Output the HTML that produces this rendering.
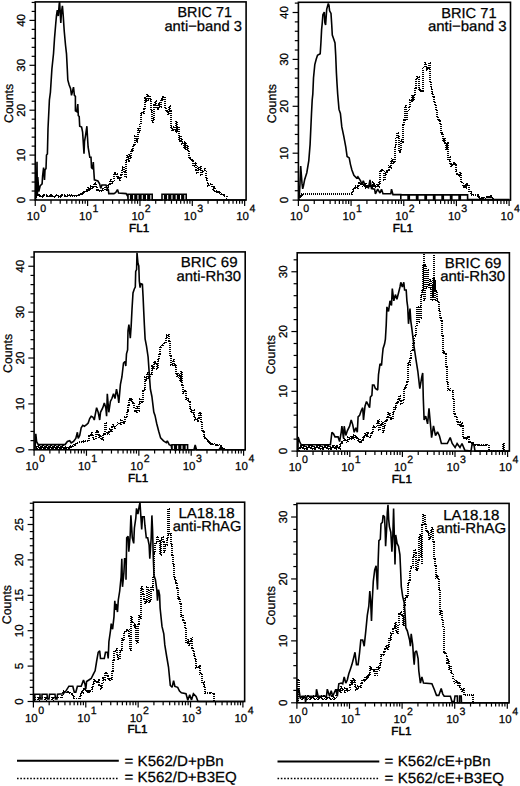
<!DOCTYPE html>
<html><head><meta charset="utf-8"><style>
html,body{margin:0;padding:0;background:#fff;}
svg{display:block;}
text{font-family:"Liberation Sans", sans-serif;fill:#000;stroke:#000;stroke-width:0.25px;text-rendering:geometricPrecision;}
</style></head><body>
<svg width="520" height="786" viewBox="0 0 520 786">
<rect x="35.25" y="1.9" width="210.85" height="198.10" fill="none" stroke="#000" stroke-width="1.6"/>
<line x1="29.45" y1="200.00" x2="35.25" y2="200.00" stroke="#000" stroke-width="1.2"/>
<line x1="31.65" y1="191.02" x2="35.25" y2="191.02" stroke="#000" stroke-width="1.2"/>
<line x1="31.65" y1="182.04" x2="35.25" y2="182.04" stroke="#000" stroke-width="1.2"/>
<line x1="31.65" y1="173.06" x2="35.25" y2="173.06" stroke="#000" stroke-width="1.2"/>
<line x1="31.65" y1="164.08" x2="35.25" y2="164.08" stroke="#000" stroke-width="1.2"/>
<line x1="29.45" y1="155.10" x2="35.25" y2="155.10" stroke="#000" stroke-width="1.2"/>
<line x1="31.65" y1="146.12" x2="35.25" y2="146.12" stroke="#000" stroke-width="1.2"/>
<line x1="31.65" y1="137.14" x2="35.25" y2="137.14" stroke="#000" stroke-width="1.2"/>
<line x1="31.65" y1="128.16" x2="35.25" y2="128.16" stroke="#000" stroke-width="1.2"/>
<line x1="31.65" y1="119.18" x2="35.25" y2="119.18" stroke="#000" stroke-width="1.2"/>
<line x1="29.45" y1="110.20" x2="35.25" y2="110.20" stroke="#000" stroke-width="1.2"/>
<line x1="31.65" y1="101.22" x2="35.25" y2="101.22" stroke="#000" stroke-width="1.2"/>
<line x1="31.65" y1="92.24" x2="35.25" y2="92.24" stroke="#000" stroke-width="1.2"/>
<line x1="31.65" y1="83.26" x2="35.25" y2="83.26" stroke="#000" stroke-width="1.2"/>
<line x1="31.65" y1="74.28" x2="35.25" y2="74.28" stroke="#000" stroke-width="1.2"/>
<line x1="29.45" y1="65.30" x2="35.25" y2="65.30" stroke="#000" stroke-width="1.2"/>
<line x1="31.65" y1="56.32" x2="35.25" y2="56.32" stroke="#000" stroke-width="1.2"/>
<line x1="31.65" y1="47.34" x2="35.25" y2="47.34" stroke="#000" stroke-width="1.2"/>
<line x1="31.65" y1="38.36" x2="35.25" y2="38.36" stroke="#000" stroke-width="1.2"/>
<line x1="31.65" y1="29.38" x2="35.25" y2="29.38" stroke="#000" stroke-width="1.2"/>
<line x1="29.45" y1="20.40" x2="35.25" y2="20.40" stroke="#000" stroke-width="1.2"/>
<line x1="31.65" y1="11.42" x2="35.25" y2="11.42" stroke="#000" stroke-width="1.2"/>
<line x1="31.65" y1="2.44" x2="35.25" y2="2.44" stroke="#000" stroke-width="1.2"/>
<text x="25.05" y="200.00" transform="rotate(-90 25.05 200.00)" text-anchor="middle" font-size="11.6">0</text>
<text x="25.05" y="155.10" transform="rotate(-90 25.05 155.10)" text-anchor="middle" font-size="11.6">10</text>
<text x="25.05" y="110.20" transform="rotate(-90 25.05 110.20)" text-anchor="middle" font-size="11.6">20</text>
<text x="25.05" y="65.30" transform="rotate(-90 25.05 65.30)" text-anchor="middle" font-size="11.6">30</text>
<text x="25.05" y="20.40" transform="rotate(-90 25.05 20.40)" text-anchor="middle" font-size="11.6">40</text>
<text x="12.60" y="103.4" transform="rotate(-90 12.60 103.4)" text-anchor="middle" font-size="12.4">Counts</text>
<line x1="35.25" y1="200.0" x2="35.25" y2="206.00" stroke="#000" stroke-width="1.2"/>
<line x1="51.01" y1="200.0" x2="51.01" y2="203.80" stroke="#000" stroke-width="1.2"/>
<line x1="60.23" y1="200.0" x2="60.23" y2="203.80" stroke="#000" stroke-width="1.2"/>
<line x1="66.77" y1="200.0" x2="66.77" y2="203.80" stroke="#000" stroke-width="1.2"/>
<line x1="71.84" y1="200.0" x2="71.84" y2="203.80" stroke="#000" stroke-width="1.2"/>
<line x1="75.99" y1="200.0" x2="75.99" y2="203.80" stroke="#000" stroke-width="1.2"/>
<line x1="79.49" y1="200.0" x2="79.49" y2="203.80" stroke="#000" stroke-width="1.2"/>
<line x1="82.53" y1="200.0" x2="82.53" y2="203.80" stroke="#000" stroke-width="1.2"/>
<line x1="85.20" y1="200.0" x2="85.20" y2="203.80" stroke="#000" stroke-width="1.2"/>
<line x1="87.60" y1="200.0" x2="87.60" y2="206.00" stroke="#000" stroke-width="1.2"/>
<line x1="103.36" y1="200.0" x2="103.36" y2="203.80" stroke="#000" stroke-width="1.2"/>
<line x1="112.58" y1="200.0" x2="112.58" y2="203.80" stroke="#000" stroke-width="1.2"/>
<line x1="119.12" y1="200.0" x2="119.12" y2="203.80" stroke="#000" stroke-width="1.2"/>
<line x1="124.19" y1="200.0" x2="124.19" y2="203.80" stroke="#000" stroke-width="1.2"/>
<line x1="128.34" y1="200.0" x2="128.34" y2="203.80" stroke="#000" stroke-width="1.2"/>
<line x1="131.84" y1="200.0" x2="131.84" y2="203.80" stroke="#000" stroke-width="1.2"/>
<line x1="134.88" y1="200.0" x2="134.88" y2="203.80" stroke="#000" stroke-width="1.2"/>
<line x1="137.55" y1="200.0" x2="137.55" y2="203.80" stroke="#000" stroke-width="1.2"/>
<line x1="139.95" y1="200.0" x2="139.95" y2="206.00" stroke="#000" stroke-width="1.2"/>
<line x1="155.71" y1="200.0" x2="155.71" y2="203.80" stroke="#000" stroke-width="1.2"/>
<line x1="164.93" y1="200.0" x2="164.93" y2="203.80" stroke="#000" stroke-width="1.2"/>
<line x1="171.47" y1="200.0" x2="171.47" y2="203.80" stroke="#000" stroke-width="1.2"/>
<line x1="176.54" y1="200.0" x2="176.54" y2="203.80" stroke="#000" stroke-width="1.2"/>
<line x1="180.69" y1="200.0" x2="180.69" y2="203.80" stroke="#000" stroke-width="1.2"/>
<line x1="184.19" y1="200.0" x2="184.19" y2="203.80" stroke="#000" stroke-width="1.2"/>
<line x1="187.23" y1="200.0" x2="187.23" y2="203.80" stroke="#000" stroke-width="1.2"/>
<line x1="189.90" y1="200.0" x2="189.90" y2="203.80" stroke="#000" stroke-width="1.2"/>
<line x1="192.30" y1="200.0" x2="192.30" y2="206.00" stroke="#000" stroke-width="1.2"/>
<line x1="208.06" y1="200.0" x2="208.06" y2="203.80" stroke="#000" stroke-width="1.2"/>
<line x1="217.28" y1="200.0" x2="217.28" y2="203.80" stroke="#000" stroke-width="1.2"/>
<line x1="223.82" y1="200.0" x2="223.82" y2="203.80" stroke="#000" stroke-width="1.2"/>
<line x1="228.89" y1="200.0" x2="228.89" y2="203.80" stroke="#000" stroke-width="1.2"/>
<line x1="233.04" y1="200.0" x2="233.04" y2="203.80" stroke="#000" stroke-width="1.2"/>
<line x1="236.54" y1="200.0" x2="236.54" y2="203.80" stroke="#000" stroke-width="1.2"/>
<line x1="239.58" y1="200.0" x2="239.58" y2="203.80" stroke="#000" stroke-width="1.2"/>
<line x1="242.25" y1="200.0" x2="242.25" y2="203.80" stroke="#000" stroke-width="1.2"/>
<line x1="244.65" y1="200.0" x2="244.65" y2="206.00" stroke="#000" stroke-width="1.2"/>
<text x="26.75" y="220.10" font-size="11.5">10<tspan dx="0.6" dy="-7.9" font-size="10.6">0</tspan></text>
<text x="79.10" y="220.10" font-size="11.5">10<tspan dx="0.6" dy="-7.9" font-size="10.6">1</tspan></text>
<text x="131.45" y="220.10" font-size="11.5">10<tspan dx="0.6" dy="-7.9" font-size="10.6">2</tspan></text>
<text x="183.80" y="220.10" font-size="11.5">10<tspan dx="0.6" dy="-7.9" font-size="10.6">3</tspan></text>
<text x="236.15" y="220.10" font-size="11.5">10<tspan dx="0.6" dy="-7.9" font-size="10.6">4</tspan></text>
<text x="139.18" y="231.80" text-anchor="middle" font-size="11.6" letter-spacing="0.1" style="stroke-width:0.5px">FL1</text>
<text x="177.50" y="17.2" font-size="14.5" textLength="54.40" lengthAdjust="spacingAndGlyphs">BRIC 71</text>
<text x="164.40" y="30.5" font-size="14.5" textLength="77.50" lengthAdjust="spacingAndGlyphs">anti−band 3</text>
<polyline points="35.5,200.0 35.9,180.0 36.4,196.0 37.0,161.7 37.4,196.0 37.8,177.0 38.8,191.5 40.2,185.8 42.1,183.8 42.6,176.0 43.6,167.5 44.5,180.0 45.0,170.0 46.0,168.5 46.5,155.0 47.4,154.0 48.0,128.8 49.4,100.0 50.4,92.3 51.9,69.0 53.5,53.8 54.5,38.5 55.8,23.0 56.5,15.4 57.3,10.0 58.3,16.0 59.2,4.0 59.6,2.0 60.2,12.0 60.8,23.0 61.5,12.0 62.4,5.8 63.2,15.4 64.2,30.8 65.5,45.0 66.5,53.8 67.3,69.2 67.8,80.0 69.1,84.8 70.6,88.7 71.5,95.4 73.5,87.2 74.4,95.4 75.4,96.3 75.4,110.8 76.8,111.7 77.8,104.0 78.3,115.6 79.2,116.5 79.7,126.2 81.6,127.1 82.6,132.0 83.1,139.6 84.0,153.8 84.5,141.5 85.5,135.8 86.9,126.2 87.4,135.8 88.1,147.0 89.8,157.3 91.0,157.3 91.5,167.7 92.7,168.8 93.3,162.0 93.8,171.0 94.4,179.8 97.9,181.0 99.6,183.8 100.8,188.4 101.9,185.0 106.0,185.0 107.1,188.4 108.3,189.6 108.8,193.6 114.0,193.6 115.8,192.5 117.5,189.6 118.6,193.0 126.1,193.6 127.9,196.5 128.0,200.0 128.0,194.3 130.7,194.3 130.7,200.0 132.3,200.0 132.3,200.0 132.3,194.3 135.0,194.3 135.0,200.0 136.6,200.0 136.6,200.0 136.6,194.3 139.3,194.3 139.3,200.0 140.9,200.0 140.9,200.0 140.9,194.3 143.6,194.3 143.6,200.0 145.2,200.0 145.2,200.0 145.2,194.3 147.9,194.3 147.9,200.0 149.5,200.0 149.5,200.0 149.5,194.3 152.2,194.3 152.2,200.0 153.8,200.0 155.0,200.0 162.0,200.0 162.0,200.0 162.0,194.3 164.7,194.3 164.7,200.0 166.3,200.0 166.3,200.0 166.3,194.3 169.0,194.3 169.0,200.0 170.6,200.0 170.6,200.0 170.6,194.3 173.3,194.3 173.3,200.0 174.9,200.0 174.9,200.0 174.9,194.3 177.6,194.3 177.6,200.0 179.2,200.0 179.2,200.0 179.2,194.3 181.9,194.3 181.9,200.0 183.5,200.0 183.5,200.0 183.5,194.3 186.2,194.3 186.2,200.0 187.8,200.0 188.0,200.0 246.0,200.0" fill="none" stroke="#000" stroke-width="1.6" stroke-linejoin="miter" stroke-miterlimit="2"/>
<path d="M36.00,200.00V196.00H37.00V195.25H38.00V194.75H39.00V194.50H40.00V195.75H41.00V196.58H42.00V197.00H43.00V195.75H44.00V194.92H45.00V194.50H46.00V195.75H47.00V196.58H48.00V197.00H49.00V195.75H50.00V194.92H51.00V194.50H52.00V195.75H53.00V196.58H54.00V197.00H55.00V196.00H56.00V195.33H57.00V195.00H58.00V196.00H59.00V196.67H60.00V197.00H61.00V195.75H62.00V194.92H63.00V194.50H64.00V195.75H65.00V196.58H66.00V197.00H67.00V196.00H68.00V195.33H69.00V195.00H70.00V195.38H71.00V195.62H72.00V195.88H73.00V196.00H74.00V195.85H75.00V195.75H76.00V195.65H77.00V195.55H78.00V195.50H79.00V194.61H80.00V194.02H81.00V193.60H82.00V192.94H83.00V192.43H84.00V191.92H85.00V191.41H86.00V190.70H87.00V190.09H88.00V187.50H89.00V190.48H90.00V188.12H91.00V186.00H92.00V188.38H93.00V187.52H94.00V183.37H95.00V184.40H96.00V187.02H97.00V189.60H98.00V190.30H99.00V190.89H100.00V191.30H101.00V190.51H102.00V188.89H103.00V189.60H104.00V190.13H105.00V187.04H106.00V190.52H107.00V189.60H108.00V185.93H109.00V183.80H110.00V180.30H111.00V180.40H112.00V182.66H113.00V180.40H114.00V172.90H115.00V174.09H116.00V174.30H117.00V177.11H118.00V178.00H119.00V179.80H120.00V178.35H121.00V174.60H122.00V168.80H123.00V166.59H124.00V172.30H125.00V176.90H126.00V160.80H127.00V156.10H128.00V160.60H129.00V155.00H130.00V158.50H131.00V150.29H132.00V151.50H133.00V146.50H134.00V144.93H135.00V136.00H136.00V141.79H137.00V140.00H138.00V128.88H139.00V132.00H140.00V124.77H141.00V114.20H142.00V111.93H143.00V113.00H144.00V109.01H145.00V98.07H146.00V101.50H147.00V95.07H148.00V99.80H149.00V95.97H150.00V99.80H151.00V110.80H152.00V121.91H153.00V118.80H154.00V105.00H155.00V101.36H156.00V108.07H157.00V105.00H158.00V109.07H159.00V102.70H160.00V107.13H161.00V99.17H162.00V100.40H163.00V97.14H164.00V97.50H165.00V108.50H166.00V110.80H167.00V111.10H168.00V114.11H169.00V106.10H170.00V110.80H171.00V127.00H172.00V129.98H173.00V130.57H174.00V127.00H175.00V131.32H176.00V121.44H177.00V132.35H178.00V127.00H179.00V140.70H180.00V136.40H181.00V140.07H182.00V143.99H183.00V143.00H184.00V148.78H185.00V142.37H186.00V149.83H187.00V145.40H188.00V151.51H189.00V158.00H190.00V158.10H191.00V160.19H192.00V160.90H193.00V166.00H194.00V162.83H195.00V164.25H196.00V169.89H197.00V173.34H198.00V166.65H199.00V170.00H200.00V166.43H201.00V174.82H202.00V171.13H203.00V170.26H204.00V169.06H205.00V171.60H206.00V178.95H207.00V182.40H208.00V185.99H209.00V184.62H210.00V185.43H211.00V184.33H212.00V187.80H213.00V190.88H214.00V186.96H215.00V190.15H216.00V190.91H217.00V191.90H218.00V192.28H219.00V192.83H220.00V193.38H221.00V193.93H222.00V194.48H223.00V195.03H224.00V195.58H225.00V196.13H226.00V196.40H227.00V198.48H228.00V200.00H229.00V200.00" fill="none" stroke="#000" stroke-width="1.8" stroke-dasharray="1 1" shape-rendering="crispEdges"/>
<rect x="298.4" y="2.3" width="212.10" height="197.80" fill="none" stroke="#000" stroke-width="1.6"/>
<line x1="292.60" y1="200.10" x2="298.4" y2="200.10" stroke="#000" stroke-width="1.2"/>
<line x1="294.80" y1="190.72" x2="298.4" y2="190.72" stroke="#000" stroke-width="1.2"/>
<line x1="294.80" y1="181.34" x2="298.4" y2="181.34" stroke="#000" stroke-width="1.2"/>
<line x1="294.80" y1="171.96" x2="298.4" y2="171.96" stroke="#000" stroke-width="1.2"/>
<line x1="294.80" y1="162.58" x2="298.4" y2="162.58" stroke="#000" stroke-width="1.2"/>
<line x1="292.60" y1="153.20" x2="298.4" y2="153.20" stroke="#000" stroke-width="1.2"/>
<line x1="294.80" y1="143.82" x2="298.4" y2="143.82" stroke="#000" stroke-width="1.2"/>
<line x1="294.80" y1="134.44" x2="298.4" y2="134.44" stroke="#000" stroke-width="1.2"/>
<line x1="294.80" y1="125.06" x2="298.4" y2="125.06" stroke="#000" stroke-width="1.2"/>
<line x1="294.80" y1="115.68" x2="298.4" y2="115.68" stroke="#000" stroke-width="1.2"/>
<line x1="292.60" y1="106.30" x2="298.4" y2="106.30" stroke="#000" stroke-width="1.2"/>
<line x1="294.80" y1="96.92" x2="298.4" y2="96.92" stroke="#000" stroke-width="1.2"/>
<line x1="294.80" y1="87.54" x2="298.4" y2="87.54" stroke="#000" stroke-width="1.2"/>
<line x1="294.80" y1="78.16" x2="298.4" y2="78.16" stroke="#000" stroke-width="1.2"/>
<line x1="294.80" y1="68.78" x2="298.4" y2="68.78" stroke="#000" stroke-width="1.2"/>
<line x1="292.60" y1="59.40" x2="298.4" y2="59.40" stroke="#000" stroke-width="1.2"/>
<line x1="294.80" y1="50.02" x2="298.4" y2="50.02" stroke="#000" stroke-width="1.2"/>
<line x1="294.80" y1="40.64" x2="298.4" y2="40.64" stroke="#000" stroke-width="1.2"/>
<line x1="294.80" y1="31.26" x2="298.4" y2="31.26" stroke="#000" stroke-width="1.2"/>
<line x1="294.80" y1="21.88" x2="298.4" y2="21.88" stroke="#000" stroke-width="1.2"/>
<line x1="292.60" y1="12.50" x2="298.4" y2="12.50" stroke="#000" stroke-width="1.2"/>
<line x1="294.80" y1="3.12" x2="298.4" y2="3.12" stroke="#000" stroke-width="1.2"/>
<text x="288.20" y="200.10" transform="rotate(-90 288.20 200.10)" text-anchor="middle" font-size="11.6">0</text>
<text x="288.20" y="153.20" transform="rotate(-90 288.20 153.20)" text-anchor="middle" font-size="11.6">10</text>
<text x="288.20" y="106.30" transform="rotate(-90 288.20 106.30)" text-anchor="middle" font-size="11.6">20</text>
<text x="288.20" y="59.40" transform="rotate(-90 288.20 59.40)" text-anchor="middle" font-size="11.6">30</text>
<text x="288.20" y="12.50" transform="rotate(-90 288.20 12.50)" text-anchor="middle" font-size="11.6">40</text>
<text x="275.70" y="103.6" transform="rotate(-90 275.70 103.6)" text-anchor="middle" font-size="12.4">Counts</text>
<line x1="298.40" y1="200.1" x2="298.40" y2="206.10" stroke="#000" stroke-width="1.2"/>
<line x1="314.26" y1="200.1" x2="314.26" y2="203.90" stroke="#000" stroke-width="1.2"/>
<line x1="323.53" y1="200.1" x2="323.53" y2="203.90" stroke="#000" stroke-width="1.2"/>
<line x1="330.11" y1="200.1" x2="330.11" y2="203.90" stroke="#000" stroke-width="1.2"/>
<line x1="335.22" y1="200.1" x2="335.22" y2="203.90" stroke="#000" stroke-width="1.2"/>
<line x1="339.39" y1="200.1" x2="339.39" y2="203.90" stroke="#000" stroke-width="1.2"/>
<line x1="342.92" y1="200.1" x2="342.92" y2="203.90" stroke="#000" stroke-width="1.2"/>
<line x1="345.97" y1="200.1" x2="345.97" y2="203.90" stroke="#000" stroke-width="1.2"/>
<line x1="348.66" y1="200.1" x2="348.66" y2="203.90" stroke="#000" stroke-width="1.2"/>
<line x1="351.07" y1="200.1" x2="351.07" y2="206.10" stroke="#000" stroke-width="1.2"/>
<line x1="366.93" y1="200.1" x2="366.93" y2="203.90" stroke="#000" stroke-width="1.2"/>
<line x1="376.21" y1="200.1" x2="376.21" y2="203.90" stroke="#000" stroke-width="1.2"/>
<line x1="382.79" y1="200.1" x2="382.79" y2="203.90" stroke="#000" stroke-width="1.2"/>
<line x1="387.89" y1="200.1" x2="387.89" y2="203.90" stroke="#000" stroke-width="1.2"/>
<line x1="392.06" y1="200.1" x2="392.06" y2="203.90" stroke="#000" stroke-width="1.2"/>
<line x1="395.59" y1="200.1" x2="395.59" y2="203.90" stroke="#000" stroke-width="1.2"/>
<line x1="398.65" y1="200.1" x2="398.65" y2="203.90" stroke="#000" stroke-width="1.2"/>
<line x1="401.34" y1="200.1" x2="401.34" y2="203.90" stroke="#000" stroke-width="1.2"/>
<line x1="403.75" y1="200.1" x2="403.75" y2="206.10" stroke="#000" stroke-width="1.2"/>
<line x1="419.61" y1="200.1" x2="419.61" y2="203.90" stroke="#000" stroke-width="1.2"/>
<line x1="428.88" y1="200.1" x2="428.88" y2="203.90" stroke="#000" stroke-width="1.2"/>
<line x1="435.46" y1="200.1" x2="435.46" y2="203.90" stroke="#000" stroke-width="1.2"/>
<line x1="440.57" y1="200.1" x2="440.57" y2="203.90" stroke="#000" stroke-width="1.2"/>
<line x1="444.74" y1="200.1" x2="444.74" y2="203.90" stroke="#000" stroke-width="1.2"/>
<line x1="448.27" y1="200.1" x2="448.27" y2="203.90" stroke="#000" stroke-width="1.2"/>
<line x1="451.32" y1="200.1" x2="451.32" y2="203.90" stroke="#000" stroke-width="1.2"/>
<line x1="454.01" y1="200.1" x2="454.01" y2="203.90" stroke="#000" stroke-width="1.2"/>
<line x1="456.43" y1="200.1" x2="456.43" y2="206.10" stroke="#000" stroke-width="1.2"/>
<line x1="472.28" y1="200.1" x2="472.28" y2="203.90" stroke="#000" stroke-width="1.2"/>
<line x1="481.56" y1="200.1" x2="481.56" y2="203.90" stroke="#000" stroke-width="1.2"/>
<line x1="488.14" y1="200.1" x2="488.14" y2="203.90" stroke="#000" stroke-width="1.2"/>
<line x1="493.24" y1="200.1" x2="493.24" y2="203.90" stroke="#000" stroke-width="1.2"/>
<line x1="497.41" y1="200.1" x2="497.41" y2="203.90" stroke="#000" stroke-width="1.2"/>
<line x1="500.94" y1="200.1" x2="500.94" y2="203.90" stroke="#000" stroke-width="1.2"/>
<line x1="504.00" y1="200.1" x2="504.00" y2="203.90" stroke="#000" stroke-width="1.2"/>
<line x1="506.69" y1="200.1" x2="506.69" y2="203.90" stroke="#000" stroke-width="1.2"/>
<line x1="509.10" y1="200.1" x2="509.10" y2="206.10" stroke="#000" stroke-width="1.2"/>
<text x="289.90" y="220.20" font-size="11.5">10<tspan dx="0.6" dy="-7.9" font-size="10.6">0</tspan></text>
<text x="342.57" y="220.20" font-size="11.5">10<tspan dx="0.6" dy="-7.9" font-size="10.6">1</tspan></text>
<text x="395.25" y="220.20" font-size="11.5">10<tspan dx="0.6" dy="-7.9" font-size="10.6">2</tspan></text>
<text x="447.93" y="220.20" font-size="11.5">10<tspan dx="0.6" dy="-7.9" font-size="10.6">3</tspan></text>
<text x="500.60" y="220.20" font-size="11.5">10<tspan dx="0.6" dy="-7.9" font-size="10.6">4</tspan></text>
<text x="402.95" y="231.90" text-anchor="middle" font-size="11.6" letter-spacing="0.1" style="stroke-width:0.5px">FL1</text>
<text x="441.20" y="17.7" font-size="14.5" textLength="55.40" lengthAdjust="spacingAndGlyphs">BRIC 71</text>
<text x="427.90" y="31" font-size="14.5" textLength="78.70" lengthAdjust="spacingAndGlyphs">anti−band 3</text>
<polyline points="298.8,199.5 299.4,194.2 300.0,183.4 300.7,166.0 301.4,175.4 302.0,183.4 302.7,188.8 303.4,186.1 304.7,179.4 306.8,172.7 308.8,160.6 310.1,144.4 311.5,113.5 312.2,100.0 312.8,94.2 313.5,78.0 314.8,64.6 316.2,59.2 317.5,55.2 320.2,53.8 320.9,43.0 321.6,29.6 322.2,23.6 322.9,14.8 324.3,12.1 324.9,22.9 325.6,24.9 326.7,9.4 328.3,3.4 329.0,5.4 329.6,10.8 331.0,13.5 331.7,24.2 332.3,35.0 333.7,39.0 335.0,43.0 335.7,55.2 336.4,72.7 337.0,83.4 337.7,94.2 339.0,109.4 340.4,113.5 341.8,126.9 343.8,136.3 345.8,147.1 347.1,156.5 349.2,157.9 350.5,164.6 351.9,170.0 353.9,175.4 356.6,178.1 357.9,176.7 360.6,180.8 361.9,184.8 363.3,180.8 365.3,186.1 368.5,187.7 370.0,180.0 371.5,188.5 374.6,189.2 375.4,193.8 377.7,189.2 380.0,193.0 381.5,189.2 383.0,193.8 390.8,193.8 391.5,189.2 393.0,194.6 400.8,194.6 400.8,199.5 400.8,194.9 408.1,194.9 408.1,199.5 409.3,199.5 409.3,199.5 409.3,194.9 416.6,194.9 416.6,199.5 417.8,199.5 417.8,199.5 417.8,194.9 425.1,194.9 425.1,199.5 426.3,199.5 426.3,199.5 426.3,194.9 433.6,194.9 433.6,199.5 434.8,199.5 434.8,199.5 434.8,194.9 442.1,194.9 442.1,199.5 443.3,199.5 443.3,199.5 443.3,194.9 450.6,194.9 450.6,199.5 451.8,199.5 451.8,199.5 451.8,194.9 459.1,194.9 459.1,199.5 460.3,199.5 460.3,199.5 460.3,194.9 467.6,194.9 467.6,199.5 468.8,199.5 470.0,199.5 509.5,199.5" fill="none" stroke="#000" stroke-width="1.6" stroke-linejoin="miter" stroke-miterlimit="2"/>
<path d="M299.00,200.10V197.00H300.00V195.60H301.00V194.67H302.00V194.20H303.00V194.20H304.00V194.20H305.00V194.20H306.00V194.20H307.00V194.20H308.00V194.20H309.00V194.20H310.00V194.20H311.00V194.20H312.00V194.20H313.00V194.20H314.00V194.20H315.00V194.20H316.00V194.20H317.00V194.20H318.00V194.20H319.00V194.20H320.00V194.20H321.00V194.20H322.00V194.20H323.00V194.20H324.00V194.20H325.00V194.20H326.00V194.20H327.00V194.20H328.00V194.20H329.00V194.20H330.00V194.20H331.00V194.20H332.00V194.20H333.00V194.20H334.00V194.20H335.00V194.20H336.00V194.20H337.00V194.20H338.00V194.20H339.00V194.20H340.00V194.20H341.00V194.20H342.00V194.20H343.00V194.20H344.00V194.20H345.00V194.20H346.00V194.20H347.00V194.20H348.00V194.20H349.00V194.20H350.00V194.20H351.00V194.20H352.00V194.20V191.50H353.00V190.09H354.00V187.44H355.00V186.10H356.00V187.92H357.00V187.92H358.00V186.16H359.00V183.32H360.00V183.60H361.00V183.54H362.00V183.00H363.00V186.40H364.00V185.68H365.00V183.51H366.00V187.78H367.00V185.97H368.00V186.90H369.00V186.99H370.00V186.06H371.00V185.02H372.00V187.81H373.00V182.38H374.00V184.60H375.00V185.79H376.00V187.02H377.00V184.46H378.00V186.60H379.00V182.59H380.00V184.60V171.50H381.00V170.78H382.00V169.54H383.00V171.50H384.00V180.00H385.00V174.00H386.00V170.80H387.00V172.11H388.00V170.00H389.00V165.82H390.00V167.70H391.00V161.84H392.00V158.50H393.00V163.57H394.00V161.50H395.00V146.28H396.00V138.50H397.00V133.16H398.00V137.00H399.00V152.01H400.00V150.80H401.00V140.00H402.00V142.49H403.00V143.00V125.00H404.00V120.00H405.00V106.20H406.00V120.00H407.00V110.17H408.00V109.20H409.00V107.49H410.00V99.82H411.00V101.50H412.00V95.49H413.00V100.43H414.00V95.40H415.00V87.72H416.00V78.50H417.00V76.77H418.00V77.00H419.00V89.20H420.00V90.04H421.00V91.09H422.00V90.80H423.00V81.50V68.50H424.00V67.83H425.00V63.28H426.00V67.70H427.00V69.70H428.00V67.67H429.00V63.00H430.00V81.50H431.00V87.70H432.00V92.96H433.00V97.00H434.00V101.50H435.00V104.58H436.00V109.50H437.00V117.40H438.00V120.30H439.00V121.26H440.00V123.70H441.00V133.10H442.00V133.69H443.00V141.51H444.00V138.60H445.00V142.60H446.00V149.35H447.00V143.20H448.00V148.90V160.00H449.00V157.08H450.00V163.88H451.00V166.22H452.00V164.59H453.00V163.10H454.00V163.95H455.00V165.36H456.00V171.00H457.00V174.40H458.00V175.65H459.00V174.58H460.00V172.60H461.00V181.48H462.00V183.60H463.00V187.14H464.00V184.69H465.00V187.65H466.00V183.94H467.00V186.00H468.00V185.02H469.00V191.57H470.00V191.50H471.00V193.18H472.00V194.60H473.00V194.60H474.00V194.60H475.00V194.60H476.00V194.60H477.00V194.60H478.00V196.10H479.00V197.35H480.00V198.60H481.00V198.38H482.00V198.16H483.00V197.95H484.00V197.73H485.00V197.51H486.00V197.29H487.00V197.07H488.00V196.85H489.00V196.64H490.00V196.42H491.00V196.20H492.00V198.40H493.00V200.10" fill="none" stroke="#000" stroke-width="1.8" stroke-dasharray="1 1" shape-rendering="crispEdges"/>
<rect x="34.1" y="251.9" width="211.10" height="197.90" fill="none" stroke="#000" stroke-width="1.6"/>
<line x1="28.30" y1="449.80" x2="34.1" y2="449.80" stroke="#000" stroke-width="1.2"/>
<line x1="30.50" y1="440.62" x2="34.1" y2="440.62" stroke="#000" stroke-width="1.2"/>
<line x1="30.50" y1="431.44" x2="34.1" y2="431.44" stroke="#000" stroke-width="1.2"/>
<line x1="30.50" y1="422.27" x2="34.1" y2="422.27" stroke="#000" stroke-width="1.2"/>
<line x1="30.50" y1="413.09" x2="34.1" y2="413.09" stroke="#000" stroke-width="1.2"/>
<line x1="28.30" y1="403.91" x2="34.1" y2="403.91" stroke="#000" stroke-width="1.2"/>
<line x1="30.50" y1="394.73" x2="34.1" y2="394.73" stroke="#000" stroke-width="1.2"/>
<line x1="30.50" y1="385.55" x2="34.1" y2="385.55" stroke="#000" stroke-width="1.2"/>
<line x1="30.50" y1="376.38" x2="34.1" y2="376.38" stroke="#000" stroke-width="1.2"/>
<line x1="30.50" y1="367.20" x2="34.1" y2="367.20" stroke="#000" stroke-width="1.2"/>
<line x1="28.30" y1="358.02" x2="34.1" y2="358.02" stroke="#000" stroke-width="1.2"/>
<line x1="30.50" y1="348.84" x2="34.1" y2="348.84" stroke="#000" stroke-width="1.2"/>
<line x1="30.50" y1="339.66" x2="34.1" y2="339.66" stroke="#000" stroke-width="1.2"/>
<line x1="30.50" y1="330.49" x2="34.1" y2="330.49" stroke="#000" stroke-width="1.2"/>
<line x1="30.50" y1="321.31" x2="34.1" y2="321.31" stroke="#000" stroke-width="1.2"/>
<line x1="28.30" y1="312.13" x2="34.1" y2="312.13" stroke="#000" stroke-width="1.2"/>
<line x1="30.50" y1="302.95" x2="34.1" y2="302.95" stroke="#000" stroke-width="1.2"/>
<line x1="30.50" y1="293.77" x2="34.1" y2="293.77" stroke="#000" stroke-width="1.2"/>
<line x1="30.50" y1="284.60" x2="34.1" y2="284.60" stroke="#000" stroke-width="1.2"/>
<line x1="30.50" y1="275.42" x2="34.1" y2="275.42" stroke="#000" stroke-width="1.2"/>
<line x1="28.30" y1="266.24" x2="34.1" y2="266.24" stroke="#000" stroke-width="1.2"/>
<line x1="30.50" y1="257.06" x2="34.1" y2="257.06" stroke="#000" stroke-width="1.2"/>
<text x="23.90" y="449.80" transform="rotate(-90 23.90 449.80)" text-anchor="middle" font-size="11.6">0</text>
<text x="23.90" y="403.91" transform="rotate(-90 23.90 403.91)" text-anchor="middle" font-size="11.6">10</text>
<text x="23.90" y="358.02" transform="rotate(-90 23.90 358.02)" text-anchor="middle" font-size="11.6">20</text>
<text x="23.90" y="312.13" transform="rotate(-90 23.90 312.13)" text-anchor="middle" font-size="11.6">30</text>
<text x="23.90" y="266.24" transform="rotate(-90 23.90 266.24)" text-anchor="middle" font-size="11.6">40</text>
<text x="11.90" y="353.4" transform="rotate(-90 11.90 353.4)" text-anchor="middle" font-size="12.4">Counts</text>
<line x1="34.10" y1="449.8" x2="34.10" y2="455.80" stroke="#000" stroke-width="1.2"/>
<line x1="49.87" y1="449.8" x2="49.87" y2="453.60" stroke="#000" stroke-width="1.2"/>
<line x1="59.09" y1="449.8" x2="59.09" y2="453.60" stroke="#000" stroke-width="1.2"/>
<line x1="65.63" y1="449.8" x2="65.63" y2="453.60" stroke="#000" stroke-width="1.2"/>
<line x1="70.71" y1="449.8" x2="70.71" y2="453.60" stroke="#000" stroke-width="1.2"/>
<line x1="74.86" y1="449.8" x2="74.86" y2="453.60" stroke="#000" stroke-width="1.2"/>
<line x1="78.36" y1="449.8" x2="78.36" y2="453.60" stroke="#000" stroke-width="1.2"/>
<line x1="81.40" y1="449.8" x2="81.40" y2="453.60" stroke="#000" stroke-width="1.2"/>
<line x1="84.08" y1="449.8" x2="84.08" y2="453.60" stroke="#000" stroke-width="1.2"/>
<line x1="86.47" y1="449.8" x2="86.47" y2="455.80" stroke="#000" stroke-width="1.2"/>
<line x1="102.24" y1="449.8" x2="102.24" y2="453.60" stroke="#000" stroke-width="1.2"/>
<line x1="111.46" y1="449.8" x2="111.46" y2="453.60" stroke="#000" stroke-width="1.2"/>
<line x1="118.01" y1="449.8" x2="118.01" y2="453.60" stroke="#000" stroke-width="1.2"/>
<line x1="123.08" y1="449.8" x2="123.08" y2="453.60" stroke="#000" stroke-width="1.2"/>
<line x1="127.23" y1="449.8" x2="127.23" y2="453.60" stroke="#000" stroke-width="1.2"/>
<line x1="130.74" y1="449.8" x2="130.74" y2="453.60" stroke="#000" stroke-width="1.2"/>
<line x1="133.77" y1="449.8" x2="133.77" y2="453.60" stroke="#000" stroke-width="1.2"/>
<line x1="136.45" y1="449.8" x2="136.45" y2="453.60" stroke="#000" stroke-width="1.2"/>
<line x1="138.85" y1="449.8" x2="138.85" y2="455.80" stroke="#000" stroke-width="1.2"/>
<line x1="154.62" y1="449.8" x2="154.62" y2="453.60" stroke="#000" stroke-width="1.2"/>
<line x1="163.84" y1="449.8" x2="163.84" y2="453.60" stroke="#000" stroke-width="1.2"/>
<line x1="170.38" y1="449.8" x2="170.38" y2="453.60" stroke="#000" stroke-width="1.2"/>
<line x1="175.46" y1="449.8" x2="175.46" y2="453.60" stroke="#000" stroke-width="1.2"/>
<line x1="179.61" y1="449.8" x2="179.61" y2="453.60" stroke="#000" stroke-width="1.2"/>
<line x1="183.11" y1="449.8" x2="183.11" y2="453.60" stroke="#000" stroke-width="1.2"/>
<line x1="186.15" y1="449.8" x2="186.15" y2="453.60" stroke="#000" stroke-width="1.2"/>
<line x1="188.83" y1="449.8" x2="188.83" y2="453.60" stroke="#000" stroke-width="1.2"/>
<line x1="191.22" y1="449.8" x2="191.22" y2="455.80" stroke="#000" stroke-width="1.2"/>
<line x1="206.99" y1="449.8" x2="206.99" y2="453.60" stroke="#000" stroke-width="1.2"/>
<line x1="216.21" y1="449.8" x2="216.21" y2="453.60" stroke="#000" stroke-width="1.2"/>
<line x1="222.76" y1="449.8" x2="222.76" y2="453.60" stroke="#000" stroke-width="1.2"/>
<line x1="227.83" y1="449.8" x2="227.83" y2="453.60" stroke="#000" stroke-width="1.2"/>
<line x1="231.98" y1="449.8" x2="231.98" y2="453.60" stroke="#000" stroke-width="1.2"/>
<line x1="235.49" y1="449.8" x2="235.49" y2="453.60" stroke="#000" stroke-width="1.2"/>
<line x1="238.52" y1="449.8" x2="238.52" y2="453.60" stroke="#000" stroke-width="1.2"/>
<line x1="241.20" y1="449.8" x2="241.20" y2="453.60" stroke="#000" stroke-width="1.2"/>
<line x1="243.60" y1="449.8" x2="243.60" y2="455.80" stroke="#000" stroke-width="1.2"/>
<text x="25.60" y="469.90" font-size="11.5">10<tspan dx="0.6" dy="-7.9" font-size="10.6">0</tspan></text>
<text x="77.97" y="469.90" font-size="11.5">10<tspan dx="0.6" dy="-7.9" font-size="10.6">1</tspan></text>
<text x="130.35" y="469.90" font-size="11.5">10<tspan dx="0.6" dy="-7.9" font-size="10.6">2</tspan></text>
<text x="182.72" y="469.90" font-size="11.5">10<tspan dx="0.6" dy="-7.9" font-size="10.6">3</tspan></text>
<text x="235.10" y="469.90" font-size="11.5">10<tspan dx="0.6" dy="-7.9" font-size="10.6">4</tspan></text>
<text x="138.15" y="481.60" text-anchor="middle" font-size="11.6" letter-spacing="0.1" style="stroke-width:0.5px">FL1</text>
<text x="180.70" y="267" font-size="14.5" textLength="56.90" lengthAdjust="spacingAndGlyphs">BRIC 69</text>
<text x="176.50" y="281" font-size="14.5" textLength="64.50" lengthAdjust="spacingAndGlyphs">anti-Rh30</text>
<polyline points="35.0,449.8 35.8,433.8 36.6,441.5 38.2,444.6 65.1,444.6 67.4,441.5 69.7,440.8 71.2,443.0 73.5,441.5 75.8,438.5 77.4,432.3 78.2,438.5 79.7,435.4 81.2,427.7 82.8,425.4 84.3,426.2 86.6,424.6 88.2,423.0 89.7,418.5 91.2,416.2 92.8,417.0 94.3,420.0 95.1,415.4 96.6,407.7 98.2,412.3 99.7,420.0 100.5,412.3 102.8,407.7 104.3,403.0 105.8,407.7 106.6,416.2 107.3,393.8 108.8,412.3 110.4,401.5 111.9,398.5 113.5,393.8 115.0,398.5 116.5,389.2 118.1,397.0 118.8,403.0 120.4,384.6 121.9,377.0 123.5,363.0 125.0,361.5 125.8,366.0 126.5,353.8 127.6,350.0 128.0,330.8 128.9,324.7 129.6,330.8 130.3,338.2 131.2,325.4 132.0,309.2 133.0,293.0 134.3,289.0 135.3,287.0 135.7,271.5 136.6,269.5 137.0,252.7 138.0,263.5 138.8,266.0 139.3,281.0 140.1,287.7 140.8,283.6 142.4,284.3 143.1,297.1 143.7,310.6 144.4,325.4 145.1,338.8 146.5,346.2 148.1,357.0 149.6,378.5 150.4,389.2 151.9,396.5 153.8,412.0 155.0,415.4 156.7,423.5 158.7,431.2 160.6,437.9 163.5,440.8 166.3,442.7 167.3,440.8 169.2,444.6 171.2,445.6 172.0,449.8 172.0,444.8 174.7,444.8 174.7,449.8 176.3,449.8 176.3,449.8 176.3,444.8 179.0,444.8 179.0,449.8 180.6,449.8 180.6,449.8 180.6,444.8 183.3,444.8 183.3,449.8 184.9,449.8 184.9,449.8 184.9,444.8 187.6,444.8 187.6,449.8 189.2,449.8 190.0,449.8 194.0,449.8 195.2,445.0 196.5,449.8 219.0,449.8 221.0,447.0 223.0,449.8 245.5,449.8" fill="none" stroke="#000" stroke-width="1.6" stroke-linejoin="miter" stroke-miterlimit="2"/>
<path d="M36.00,449.80V448.00H37.00V446.50H38.00V446.00H39.00V448.25H40.00V449.00H41.00V446.75H42.00V446.00H43.00V448.25H44.00V449.00H45.00V446.75H46.00V446.00H47.00V448.25H48.00V449.00H49.00V446.75H50.00V446.00H51.00V448.25H52.00V449.00H53.00V446.75H54.00V446.00H55.00V448.25H56.00V449.00H57.00V446.75H58.00V446.00H59.00V448.25H60.00V449.00H61.00V446.75H62.00V446.00H63.00V448.25H64.00V449.00H65.00V447.50H66.00V447.00H67.00V447.75H68.00V448.00H69.00V447.25H70.00V446.75H71.00V446.25H72.00V446.00H73.00V445.30H74.00V444.83H75.00V444.60H76.00V443.52H77.00V442.80H78.00V442.30H79.00V442.30H80.00V442.30H81.00V442.30H82.00V442.30H83.00V441.82H84.00V441.14H85.00V440.80H86.00V440.80H87.00V440.80H88.00V440.80H89.00V436.20H90.00V434.77H91.00V433.12H92.00V434.60H93.00V439.06H94.00V438.50H95.00V439.00H96.00V431.12H97.00V432.30H98.00V434.92H99.00V436.71H100.00V435.40H101.00V439.28H102.00V440.00H103.00V434.28H104.00V433.80H105.00V423.00H106.00V431.45H107.00V433.80H108.00V434.44H109.00V432.30H110.00V429.30H111.00V431.39H112.00V427.37H113.00V425.01H114.00V427.70H115.00V425.10H116.00V424.04H117.00V423.49H118.00V423.00H119.00V423.55H120.00V424.22H121.00V420.00H122.00V423.49H123.00V422.72H124.00V421.97H125.00V417.00H126.00V417.47H127.00V411.34H128.00V412.30V404.60H129.00V399.03H130.00V400.00H131.00V398.50H132.00V401.58H133.00V403.00H134.00V408.67H135.00V410.80H136.00V412.54H137.00V406.74H138.00V410.80H139.00V403.00H140.00V399.03H141.00V401.50H142.00V402.36H143.00V390.80H144.00V388.95H145.00V386.20V377.00H146.00V379.80H147.00V373.26H148.00V378.50H149.00V377.00H150.00V373.99H151.00V373.80H152.00V366.20H153.00V369.41H154.00V363.00H155.00V362.00H156.00V364.10H157.00V368.64H158.00V363.00V360.00H159.00V354.20H160.00V346.92H161.00V346.50H162.00V345.01H163.00V344.60H164.00V342.70H165.00V343.01H166.00V337.00H167.00V335.14H168.00V335.00H169.00V340.80H170.00V356.20H171.00V364.80H172.00V364.98H173.00V360.00H174.00V365.01H175.00V365.80H176.00V373.50H177.00V377.30H178.00V373.52H179.00V374.64H180.00V381.20H181.00V371.50H182.00V385.00H183.00V393.24H184.00V390.80H185.00V390.85H186.00V400.40H187.00V397.64H188.00V399.88H189.00V402.30H190.00V408.00H191.00V410.95H192.00V413.05H193.00V410.00H194.00V415.84H195.00V419.60H196.00V418.70H197.00V420.64H198.00V417.70H199.00V412.67H200.00V413.80H201.00V421.50H202.00V431.20H203.00V431.87H204.00V436.00H205.00V437.80H206.00V439.54H207.00V440.80H208.00V441.60H209.00V442.60H210.00V443.70H211.00V443.87H212.00V444.06H213.00V444.24H214.00V444.43H215.00V444.60H216.00V444.83H217.00V445.04H218.00V445.25H219.00V445.45H220.00V445.60H221.00V446.95H222.00V447.98H223.00V448.50H224.00V449.48H225.00V449.80" fill="none" stroke="#000" stroke-width="1.8" stroke-dasharray="1 1" shape-rendering="crispEdges"/>
<rect x="297.2" y="252.8" width="212.20" height="198.30" fill="none" stroke="#000" stroke-width="1.6"/>
<line x1="291.40" y1="451.10" x2="297.2" y2="451.10" stroke="#000" stroke-width="1.2"/>
<line x1="293.60" y1="439.14" x2="297.2" y2="439.14" stroke="#000" stroke-width="1.2"/>
<line x1="293.60" y1="427.19" x2="297.2" y2="427.19" stroke="#000" stroke-width="1.2"/>
<line x1="293.60" y1="415.23" x2="297.2" y2="415.23" stroke="#000" stroke-width="1.2"/>
<line x1="293.60" y1="403.28" x2="297.2" y2="403.28" stroke="#000" stroke-width="1.2"/>
<line x1="291.40" y1="391.32" x2="297.2" y2="391.32" stroke="#000" stroke-width="1.2"/>
<line x1="293.60" y1="379.36" x2="297.2" y2="379.36" stroke="#000" stroke-width="1.2"/>
<line x1="293.60" y1="367.41" x2="297.2" y2="367.41" stroke="#000" stroke-width="1.2"/>
<line x1="293.60" y1="355.45" x2="297.2" y2="355.45" stroke="#000" stroke-width="1.2"/>
<line x1="293.60" y1="343.50" x2="297.2" y2="343.50" stroke="#000" stroke-width="1.2"/>
<line x1="291.40" y1="331.54" x2="297.2" y2="331.54" stroke="#000" stroke-width="1.2"/>
<line x1="293.60" y1="319.58" x2="297.2" y2="319.58" stroke="#000" stroke-width="1.2"/>
<line x1="293.60" y1="307.63" x2="297.2" y2="307.63" stroke="#000" stroke-width="1.2"/>
<line x1="293.60" y1="295.67" x2="297.2" y2="295.67" stroke="#000" stroke-width="1.2"/>
<line x1="293.60" y1="283.72" x2="297.2" y2="283.72" stroke="#000" stroke-width="1.2"/>
<line x1="291.40" y1="271.76" x2="297.2" y2="271.76" stroke="#000" stroke-width="1.2"/>
<line x1="293.60" y1="259.80" x2="297.2" y2="259.80" stroke="#000" stroke-width="1.2"/>
<text x="287.00" y="451.10" transform="rotate(-90 287.00 451.10)" text-anchor="middle" font-size="11.6">0</text>
<text x="287.00" y="391.32" transform="rotate(-90 287.00 391.32)" text-anchor="middle" font-size="11.6">10</text>
<text x="287.00" y="331.54" transform="rotate(-90 287.00 331.54)" text-anchor="middle" font-size="11.6">20</text>
<text x="287.00" y="271.76" transform="rotate(-90 287.00 271.76)" text-anchor="middle" font-size="11.6">30</text>
<text x="274.90" y="354.7" transform="rotate(-90 274.90 354.7)" text-anchor="middle" font-size="12.4">Counts</text>
<line x1="297.20" y1="451.1" x2="297.20" y2="457.10" stroke="#000" stroke-width="1.2"/>
<line x1="313.03" y1="451.1" x2="313.03" y2="454.90" stroke="#000" stroke-width="1.2"/>
<line x1="322.30" y1="451.1" x2="322.30" y2="454.90" stroke="#000" stroke-width="1.2"/>
<line x1="328.87" y1="451.1" x2="328.87" y2="454.90" stroke="#000" stroke-width="1.2"/>
<line x1="333.97" y1="451.1" x2="333.97" y2="454.90" stroke="#000" stroke-width="1.2"/>
<line x1="338.13" y1="451.1" x2="338.13" y2="454.90" stroke="#000" stroke-width="1.2"/>
<line x1="341.65" y1="451.1" x2="341.65" y2="454.90" stroke="#000" stroke-width="1.2"/>
<line x1="344.70" y1="451.1" x2="344.70" y2="454.90" stroke="#000" stroke-width="1.2"/>
<line x1="347.39" y1="451.1" x2="347.39" y2="454.90" stroke="#000" stroke-width="1.2"/>
<line x1="349.80" y1="451.1" x2="349.80" y2="457.10" stroke="#000" stroke-width="1.2"/>
<line x1="365.63" y1="451.1" x2="365.63" y2="454.90" stroke="#000" stroke-width="1.2"/>
<line x1="374.90" y1="451.1" x2="374.90" y2="454.90" stroke="#000" stroke-width="1.2"/>
<line x1="381.47" y1="451.1" x2="381.47" y2="454.90" stroke="#000" stroke-width="1.2"/>
<line x1="386.57" y1="451.1" x2="386.57" y2="454.90" stroke="#000" stroke-width="1.2"/>
<line x1="390.73" y1="451.1" x2="390.73" y2="454.90" stroke="#000" stroke-width="1.2"/>
<line x1="394.25" y1="451.1" x2="394.25" y2="454.90" stroke="#000" stroke-width="1.2"/>
<line x1="397.30" y1="451.1" x2="397.30" y2="454.90" stroke="#000" stroke-width="1.2"/>
<line x1="399.99" y1="451.1" x2="399.99" y2="454.90" stroke="#000" stroke-width="1.2"/>
<line x1="402.40" y1="451.1" x2="402.40" y2="457.10" stroke="#000" stroke-width="1.2"/>
<line x1="418.23" y1="451.1" x2="418.23" y2="454.90" stroke="#000" stroke-width="1.2"/>
<line x1="427.50" y1="451.1" x2="427.50" y2="454.90" stroke="#000" stroke-width="1.2"/>
<line x1="434.07" y1="451.1" x2="434.07" y2="454.90" stroke="#000" stroke-width="1.2"/>
<line x1="439.17" y1="451.1" x2="439.17" y2="454.90" stroke="#000" stroke-width="1.2"/>
<line x1="443.33" y1="451.1" x2="443.33" y2="454.90" stroke="#000" stroke-width="1.2"/>
<line x1="446.85" y1="451.1" x2="446.85" y2="454.90" stroke="#000" stroke-width="1.2"/>
<line x1="449.90" y1="451.1" x2="449.90" y2="454.90" stroke="#000" stroke-width="1.2"/>
<line x1="452.59" y1="451.1" x2="452.59" y2="454.90" stroke="#000" stroke-width="1.2"/>
<line x1="455.00" y1="451.1" x2="455.00" y2="457.10" stroke="#000" stroke-width="1.2"/>
<line x1="470.83" y1="451.1" x2="470.83" y2="454.90" stroke="#000" stroke-width="1.2"/>
<line x1="480.10" y1="451.1" x2="480.10" y2="454.90" stroke="#000" stroke-width="1.2"/>
<line x1="486.67" y1="451.1" x2="486.67" y2="454.90" stroke="#000" stroke-width="1.2"/>
<line x1="491.77" y1="451.1" x2="491.77" y2="454.90" stroke="#000" stroke-width="1.2"/>
<line x1="495.93" y1="451.1" x2="495.93" y2="454.90" stroke="#000" stroke-width="1.2"/>
<line x1="499.45" y1="451.1" x2="499.45" y2="454.90" stroke="#000" stroke-width="1.2"/>
<line x1="502.50" y1="451.1" x2="502.50" y2="454.90" stroke="#000" stroke-width="1.2"/>
<line x1="505.19" y1="451.1" x2="505.19" y2="454.90" stroke="#000" stroke-width="1.2"/>
<line x1="507.60" y1="451.1" x2="507.60" y2="457.10" stroke="#000" stroke-width="1.2"/>
<text x="288.70" y="471.20" font-size="11.5">10<tspan dx="0.6" dy="-7.9" font-size="10.6">0</tspan></text>
<text x="341.30" y="471.20" font-size="11.5">10<tspan dx="0.6" dy="-7.9" font-size="10.6">1</tspan></text>
<text x="393.90" y="471.20" font-size="11.5">10<tspan dx="0.6" dy="-7.9" font-size="10.6">2</tspan></text>
<text x="446.50" y="471.20" font-size="11.5">10<tspan dx="0.6" dy="-7.9" font-size="10.6">3</tspan></text>
<text x="499.10" y="471.20" font-size="11.5">10<tspan dx="0.6" dy="-7.9" font-size="10.6">4</tspan></text>
<text x="401.80" y="482.90" text-anchor="middle" font-size="11.6" letter-spacing="0.1" style="stroke-width:0.5px">FL1</text>
<text x="444.80" y="267.5" font-size="14.5" textLength="56.60" lengthAdjust="spacingAndGlyphs">BRIC 69</text>
<text x="440.20" y="281.3" font-size="14.5" textLength="65.00" lengthAdjust="spacingAndGlyphs">anti-Rh30</text>
<polyline points="298.0,451.1 298.1,436.9 299.6,441.5 301.2,444.8 330.4,444.8 331.9,432.3 333.5,433.8 335.0,436.9 338.1,436.9 339.6,441.5 341.2,432.3 341.9,426.2 343.5,438.5 344.2,426.2 345.8,435.4 347.3,430.8 349.6,426.2 351.2,420.0 352.7,424.6 354.2,432.3 355.8,427.7 357.3,432.3 358.1,416.9 359.6,415.4 361.2,410.8 362.7,407.7 363.5,420.0 365.0,406.2 366.5,401.5 368.1,404.6 369.6,407.7 370.4,397.0 371.9,395.4 372.5,385.0 374.0,385.0 375.4,388.5 377.7,390.0 378.5,374.6 380.0,363.8 381.5,365.4 382.3,356.2 383.1,348.5 384.6,343.8 385.4,339.2 386.2,325.4 386.9,306.9 388.5,311.5 390.0,300.8 391.5,305.4 392.3,288.5 393.8,300.8 395.4,294.6 396.9,299.2 398.5,293.0 400.0,286.9 400.8,282.3 402.3,286.9 403.8,282.3 404.6,290.0 406.2,290.0 406.9,300.8 407.7,306.9 408.5,323.8 410.0,308.5 410.8,320.8 412.0,329.8 413.9,345.5 415.9,359.2 417.8,371.0 419.8,388.6 421.8,376.9 422.7,373.0 423.3,398.4 424.1,420.0 425.7,416.1 427.6,423.9 429.0,408.2 430.6,425.9 431.6,437.6 433.5,425.9 435.5,435.7 437.5,431.8 439.4,435.7 441.4,443.5 447.3,443.5 450.2,437.6 452.2,443.5 455.1,447.5 457.1,443.5 460.0,447.5 462.0,443.5 464.9,450.4 471.0,451.1 472.0,444.8 474.0,444.8 475.0,451.1 509.0,451.1" fill="none" stroke="#000" stroke-width="1.6" stroke-linejoin="miter" stroke-miterlimit="2"/>
<path d="M299.00,451.10V448.00H300.00V446.12H301.00V445.50H302.00V448.12H303.00V449.00H304.00V446.38H305.00V445.50H306.00V448.12H307.00V449.00H308.00V446.38H309.00V445.50H310.00V448.12H311.00V449.00H312.00V446.38H313.00V445.50H314.00V448.12H315.00V449.00H316.00V446.38H317.00V445.50H318.00V448.12H319.00V449.00H320.00V446.38H321.00V445.50H322.00V448.12H323.00V449.00H324.00V446.38H325.00V445.50H326.00V448.12H327.00V449.00H328.00V446.38H329.00V445.50H330.00V448.12H331.00V449.00H332.00V446.38H333.00V445.50H334.00V448.12H335.00V449.00H336.00V446.75H337.00V446.00H338.00V448.25H339.00V449.00H340.00V444.91H341.00V443.00H342.00V442.15H343.00V441.50H344.00V438.84H345.00V440.00H346.00V440.55H347.00V442.24H348.00V437.00H349.00V438.73H350.00V439.20H351.00V436.90H352.00V436.76H353.00V439.41H354.00V435.02H355.00V435.44H356.00V436.90H357.00V438.42H358.00V441.50H359.00V438.76H360.00V441.61H361.00V442.05H362.00V440.00H363.00V437.98H364.00V436.90H365.00V432.65H366.00V435.93H367.00V433.10H368.00V435.46H369.00V436.18H370.00V436.90H371.00V433.22H372.00V433.08H373.00V426.30H374.00V427.09H375.00V426.45H376.00V425.40H377.00V421.89H378.00V419.60H379.00V430.20H380.00V424.80H381.00V423.53H382.00V421.50H383.00V432.10H384.00V427.25H385.00V420.60H386.00V419.62H387.00V416.70H388.00V413.07H389.00V413.80H390.00V418.85H391.00V417.70H392.00V419.39H393.00V412.90H394.00V406.94H395.00V409.00H396.00V402.87H397.00V402.30H398.00V398.92H399.00V396.22H400.00V401.30H401.00V403.89H402.00V402.38H403.00V400.40H404.00V395.60V387.90H405.00V386.89H406.00V385.40H407.00V382.30H408.00V374.60V362.30H409.00V365.17H410.00V357.70H411.00V351.50H412.00V350.00H413.00V342.94H414.00V336.60H415.00V336.20H416.00V326.90H417.00V307.00H418.00V322.00H419.00V307.00H420.00V318.00H421.00V296.00H422.00V291.00H423.00V265.00H424.00V253.50V300.00H425.00V265.00H426.00V288.00H427.00V270.00H428.00V285.00H429.00V288.00H430.00V280.00H431.00V300.00H432.00V285.00H433.00V298.00V278.00H434.00V253.50V300.00H435.00V280.00V290.00H436.00V290.79H437.00V300.00H438.00V301.50H439.00V309.60H440.00V318.00H441.00V321.00H442.00V330.20V335.70H443.00V353.30H444.00V351.98H445.00V354.30H446.00V367.00H447.00V382.70H448.00V390.48H449.00V388.60H450.00V391.18H451.00V390.60H452.00V390.70H453.00V398.40H454.00V414.10H455.00V417.17H456.00V416.41H457.00V422.00H458.00V424.91H459.00V422.16H460.00V425.90H461.00V423.33H462.00V425.90H463.00V437.60H464.00V438.30H465.00V439.23H466.00V437.72H467.00V436.70H468.00V437.24H469.00V441.60H470.00V442.01H471.00V442.61H472.00V443.20H473.00V443.79H474.00V444.50H475.00V444.56H476.00V444.63H477.00V444.70H478.00V444.78H479.00V444.85H480.00V444.92H481.00V445.00H482.00V445.07H483.00V445.14H484.00V445.22H485.00V445.29H486.00V445.36H487.00V445.43H488.00V445.50H489.00V451.10H490.00V451.10H491.00V451.10H492.00V451.10H493.00V451.10H494.00V451.10H495.00V451.10H496.00V451.10H497.00V451.10H498.00V451.10H499.00V451.10H500.00V451.10H501.00V451.10H502.00V451.10H503.00V451.10V443.50H504.00V451.10" fill="none" stroke="#000" stroke-width="1.8" stroke-dasharray="1 1" shape-rendering="crispEdges"/>
<rect x="33.4" y="502.2" width="211.25" height="199.30" fill="none" stroke="#000" stroke-width="1.6"/>
<line x1="27.60" y1="701.50" x2="33.4" y2="701.50" stroke="#000" stroke-width="1.2"/>
<line x1="29.80" y1="694.42" x2="33.4" y2="694.42" stroke="#000" stroke-width="1.2"/>
<line x1="29.80" y1="687.34" x2="33.4" y2="687.34" stroke="#000" stroke-width="1.2"/>
<line x1="29.80" y1="680.26" x2="33.4" y2="680.26" stroke="#000" stroke-width="1.2"/>
<line x1="29.80" y1="673.18" x2="33.4" y2="673.18" stroke="#000" stroke-width="1.2"/>
<line x1="27.60" y1="666.10" x2="33.4" y2="666.10" stroke="#000" stroke-width="1.2"/>
<line x1="29.80" y1="659.02" x2="33.4" y2="659.02" stroke="#000" stroke-width="1.2"/>
<line x1="29.80" y1="651.94" x2="33.4" y2="651.94" stroke="#000" stroke-width="1.2"/>
<line x1="29.80" y1="644.86" x2="33.4" y2="644.86" stroke="#000" stroke-width="1.2"/>
<line x1="29.80" y1="637.78" x2="33.4" y2="637.78" stroke="#000" stroke-width="1.2"/>
<line x1="27.60" y1="630.70" x2="33.4" y2="630.70" stroke="#000" stroke-width="1.2"/>
<line x1="29.80" y1="623.62" x2="33.4" y2="623.62" stroke="#000" stroke-width="1.2"/>
<line x1="29.80" y1="616.54" x2="33.4" y2="616.54" stroke="#000" stroke-width="1.2"/>
<line x1="29.80" y1="609.46" x2="33.4" y2="609.46" stroke="#000" stroke-width="1.2"/>
<line x1="29.80" y1="602.38" x2="33.4" y2="602.38" stroke="#000" stroke-width="1.2"/>
<line x1="27.60" y1="595.30" x2="33.4" y2="595.30" stroke="#000" stroke-width="1.2"/>
<line x1="29.80" y1="588.22" x2="33.4" y2="588.22" stroke="#000" stroke-width="1.2"/>
<line x1="29.80" y1="581.14" x2="33.4" y2="581.14" stroke="#000" stroke-width="1.2"/>
<line x1="29.80" y1="574.06" x2="33.4" y2="574.06" stroke="#000" stroke-width="1.2"/>
<line x1="29.80" y1="566.98" x2="33.4" y2="566.98" stroke="#000" stroke-width="1.2"/>
<line x1="27.60" y1="559.90" x2="33.4" y2="559.90" stroke="#000" stroke-width="1.2"/>
<line x1="29.80" y1="552.82" x2="33.4" y2="552.82" stroke="#000" stroke-width="1.2"/>
<line x1="29.80" y1="545.74" x2="33.4" y2="545.74" stroke="#000" stroke-width="1.2"/>
<line x1="29.80" y1="538.66" x2="33.4" y2="538.66" stroke="#000" stroke-width="1.2"/>
<line x1="29.80" y1="531.58" x2="33.4" y2="531.58" stroke="#000" stroke-width="1.2"/>
<line x1="27.60" y1="524.50" x2="33.4" y2="524.50" stroke="#000" stroke-width="1.2"/>
<line x1="29.80" y1="517.42" x2="33.4" y2="517.42" stroke="#000" stroke-width="1.2"/>
<line x1="29.80" y1="510.34" x2="33.4" y2="510.34" stroke="#000" stroke-width="1.2"/>
<line x1="29.80" y1="503.26" x2="33.4" y2="503.26" stroke="#000" stroke-width="1.2"/>
<text x="23.20" y="701.50" transform="rotate(-90 23.20 701.50)" text-anchor="middle" font-size="11.6">0</text>
<text x="23.20" y="666.10" transform="rotate(-90 23.20 666.10)" text-anchor="middle" font-size="11.6">5</text>
<text x="23.20" y="630.70" transform="rotate(-90 23.20 630.70)" text-anchor="middle" font-size="11.6">10</text>
<text x="23.20" y="595.30" transform="rotate(-90 23.20 595.30)" text-anchor="middle" font-size="11.6">15</text>
<text x="23.20" y="559.90" transform="rotate(-90 23.20 559.90)" text-anchor="middle" font-size="11.6">20</text>
<text x="23.20" y="524.50" transform="rotate(-90 23.20 524.50)" text-anchor="middle" font-size="11.6">25</text>
<text x="10.70" y="604.6" transform="rotate(-90 10.70 604.6)" text-anchor="middle" font-size="12.4">Counts</text>
<line x1="33.40" y1="701.5" x2="33.40" y2="707.50" stroke="#000" stroke-width="1.2"/>
<line x1="49.17" y1="701.5" x2="49.17" y2="705.30" stroke="#000" stroke-width="1.2"/>
<line x1="58.39" y1="701.5" x2="58.39" y2="705.30" stroke="#000" stroke-width="1.2"/>
<line x1="64.93" y1="701.5" x2="64.93" y2="705.30" stroke="#000" stroke-width="1.2"/>
<line x1="70.01" y1="701.5" x2="70.01" y2="705.30" stroke="#000" stroke-width="1.2"/>
<line x1="74.16" y1="701.5" x2="74.16" y2="705.30" stroke="#000" stroke-width="1.2"/>
<line x1="77.66" y1="701.5" x2="77.66" y2="705.30" stroke="#000" stroke-width="1.2"/>
<line x1="80.70" y1="701.5" x2="80.70" y2="705.30" stroke="#000" stroke-width="1.2"/>
<line x1="83.38" y1="701.5" x2="83.38" y2="705.30" stroke="#000" stroke-width="1.2"/>
<line x1="85.78" y1="701.5" x2="85.78" y2="707.50" stroke="#000" stroke-width="1.2"/>
<line x1="101.54" y1="701.5" x2="101.54" y2="705.30" stroke="#000" stroke-width="1.2"/>
<line x1="110.76" y1="701.5" x2="110.76" y2="705.30" stroke="#000" stroke-width="1.2"/>
<line x1="117.31" y1="701.5" x2="117.31" y2="705.30" stroke="#000" stroke-width="1.2"/>
<line x1="122.38" y1="701.5" x2="122.38" y2="705.30" stroke="#000" stroke-width="1.2"/>
<line x1="126.53" y1="701.5" x2="126.53" y2="705.30" stroke="#000" stroke-width="1.2"/>
<line x1="130.04" y1="701.5" x2="130.04" y2="705.30" stroke="#000" stroke-width="1.2"/>
<line x1="133.07" y1="701.5" x2="133.07" y2="705.30" stroke="#000" stroke-width="1.2"/>
<line x1="135.75" y1="701.5" x2="135.75" y2="705.30" stroke="#000" stroke-width="1.2"/>
<line x1="138.15" y1="701.5" x2="138.15" y2="707.50" stroke="#000" stroke-width="1.2"/>
<line x1="153.92" y1="701.5" x2="153.92" y2="705.30" stroke="#000" stroke-width="1.2"/>
<line x1="163.14" y1="701.5" x2="163.14" y2="705.30" stroke="#000" stroke-width="1.2"/>
<line x1="169.68" y1="701.5" x2="169.68" y2="705.30" stroke="#000" stroke-width="1.2"/>
<line x1="174.76" y1="701.5" x2="174.76" y2="705.30" stroke="#000" stroke-width="1.2"/>
<line x1="178.91" y1="701.5" x2="178.91" y2="705.30" stroke="#000" stroke-width="1.2"/>
<line x1="182.41" y1="701.5" x2="182.41" y2="705.30" stroke="#000" stroke-width="1.2"/>
<line x1="185.45" y1="701.5" x2="185.45" y2="705.30" stroke="#000" stroke-width="1.2"/>
<line x1="188.13" y1="701.5" x2="188.13" y2="705.30" stroke="#000" stroke-width="1.2"/>
<line x1="190.53" y1="701.5" x2="190.53" y2="707.50" stroke="#000" stroke-width="1.2"/>
<line x1="206.29" y1="701.5" x2="206.29" y2="705.30" stroke="#000" stroke-width="1.2"/>
<line x1="215.51" y1="701.5" x2="215.51" y2="705.30" stroke="#000" stroke-width="1.2"/>
<line x1="222.06" y1="701.5" x2="222.06" y2="705.30" stroke="#000" stroke-width="1.2"/>
<line x1="227.13" y1="701.5" x2="227.13" y2="705.30" stroke="#000" stroke-width="1.2"/>
<line x1="231.28" y1="701.5" x2="231.28" y2="705.30" stroke="#000" stroke-width="1.2"/>
<line x1="234.79" y1="701.5" x2="234.79" y2="705.30" stroke="#000" stroke-width="1.2"/>
<line x1="237.82" y1="701.5" x2="237.82" y2="705.30" stroke="#000" stroke-width="1.2"/>
<line x1="240.50" y1="701.5" x2="240.50" y2="705.30" stroke="#000" stroke-width="1.2"/>
<line x1="242.90" y1="701.5" x2="242.90" y2="707.50" stroke="#000" stroke-width="1.2"/>
<text x="24.90" y="721.60" font-size="11.5">10<tspan dx="0.6" dy="-7.9" font-size="10.6">0</tspan></text>
<text x="77.28" y="721.60" font-size="11.5">10<tspan dx="0.6" dy="-7.9" font-size="10.6">1</tspan></text>
<text x="129.65" y="721.60" font-size="11.5">10<tspan dx="0.6" dy="-7.9" font-size="10.6">2</tspan></text>
<text x="182.03" y="721.60" font-size="11.5">10<tspan dx="0.6" dy="-7.9" font-size="10.6">3</tspan></text>
<text x="234.40" y="721.60" font-size="11.5">10<tspan dx="0.6" dy="-7.9" font-size="10.6">4</tspan></text>
<text x="137.53" y="733.30" text-anchor="middle" font-size="11.6" letter-spacing="0.1" style="stroke-width:0.5px">FL1</text>
<text x="178.40" y="517.5" font-size="14.5" textLength="56.20" lengthAdjust="spacingAndGlyphs">LA18.18</text>
<text x="172.70" y="531.2" font-size="14.5" textLength="68.70" lengthAdjust="spacingAndGlyphs">anti-RhAG</text>
<polyline points="34.5,701.5 34.8,694.2 40.0,694.2 40.0,699.0 42.0,699.0 42.0,694.2 47.0,694.2 47.5,699.0 49.0,699.0 49.5,694.2 55.0,694.2 55.5,699.0 57.0,699.0 57.5,694.2 62.8,693.8 65.1,692.3 68.9,686.2 72.8,686.2 74.3,692.3 75.8,692.3 77.4,686.2 81.2,686.2 83.5,680.0 85.1,684.6 85.8,689.2 86.6,681.5 88.9,680.0 91.2,678.5 93.5,673.8 95.1,670.8 96.6,661.5 98.2,652.3 99.7,650.8 100.5,658.5 104.3,658.5 105.5,652.3 107.4,652.3 108.2,658.5 108.9,641.7 110.5,630.6 111.2,623.6 112.6,629.2 114.0,616.6 114.8,600.8 115.5,610.0 116.2,604.0 117.5,612.0 118.3,600.0 119.7,591.0 121.1,577.0 121.8,558.8 122.5,586.8 123.9,572.8 124.6,558.8 126.0,558.8 126.0,579.8 126.7,537.8 128.1,536.4 128.8,551.8 130.2,535.0 130.9,515.4 132.3,537.8 133.7,543.4 134.4,528.0 135.8,518.2 136.5,508.4 137.9,514.0 139.3,505.6 140.0,502.8 140.7,514.0 141.7,529.4 142.5,516.8 144.2,516.8 144.9,525.2 146.3,537.8 147.7,537.8 149.1,544.8 149.8,558.8 151.2,537.8 151.9,515.4 152.6,530.8 153.3,557.4 154.0,575.6 155.4,579.8 156.8,589.6 157.5,600.8 158.5,589.6 159.6,595.2 160.1,608.0 162.0,626.4 163.8,633.8 164.8,644.9 166.6,656.0 168.5,667.0 170.3,685.5 172.1,687.3 173.6,680.8 174.9,686.4 177.7,687.3 179.5,691.0 181.4,692.8 186.0,693.8 187.8,700.2 189.7,694.7 191.5,700.0 193.4,693.8 196.1,696.5 198.0,701.5 244.0,701.5" fill="none" stroke="#000" stroke-width="1.6" stroke-linejoin="miter" stroke-miterlimit="2"/>
<path d="M35.00,701.50V697.50H36.00V697.50H37.00V697.50H38.00V697.50V700.00H39.00V698.33H40.00V697.50H41.00V697.50H42.00V697.50H43.00V697.50H44.00V697.50H45.00V697.50V700.00H46.00V698.33H47.00V697.50H48.00V697.50H49.00V697.50H50.00V697.50H51.00V697.50H52.00V697.50V700.00H53.00V698.33H54.00V697.50H55.00V697.50H56.00V697.50H57.00V697.50H58.00V697.50H59.00V697.50H60.00V697.50H61.00V697.50H62.00V694.45H63.00V692.42H64.00V690.80H65.00V691.53H66.00V691.52H67.00V691.84H68.00V692.30H69.00V692.78H70.00V693.57H71.00V694.37H72.00V695.40H73.00V696.85H74.00V698.50H75.00V698.50H76.00V698.50H77.00V698.50H78.00V698.50H79.00V698.50H80.00V695.19H81.00V692.30H82.00V692.84H83.00V689.43H84.00V689.20H85.00V688.89H86.00V691.13H87.00V692.30H88.00V691.77H89.00V691.01H90.00V690.80H91.00V691.26H92.00V687.70H93.00V683.10H94.00V679.46H95.00V680.95H96.00V681.50H97.00V682.52H98.00V680.31H99.00V684.60H100.00V685.99H101.00V688.62H102.00V689.20V682.30H103.00V678.39H104.00V680.31H105.00V672.50H106.00V673.50H107.00V676.21H108.00V679.50H109.00V680.21H110.00V677.73H111.00V679.50H112.00V670.89H113.00V660.00H114.00V651.40H115.00V651.50H116.00V648.79H117.00V655.70H118.00V659.01H119.00V658.50H120.00V650.63H121.00V650.10H122.00V639.03H123.00V640.30H124.00V631.86H125.00V632.00H126.00V630.13H127.00V630.60H128.00V629.56H129.00V636.20H130.00V650.10H131.00V616.60H132.00V622.27H133.00V623.60H134.00V626.87H135.00V625.00H136.00V640.98H137.00V643.10H138.00V623.60H139.00V615.44H140.00V618.00H141.00V590.00V587.00H142.00V588.74H143.00V594.20H144.00V599.03H145.00V603.59H146.00V601.20H147.00V587.00H148.00V590.42H149.00V602.16H150.00V601.20H151.00V587.00H152.00V590.00H153.00V577.00H154.00V553.20H155.00V542.90H156.00V542.97H157.00V536.40H158.00V540.60H159.00V540.89H160.00V554.60H161.00V539.20H162.00V536.71H163.00V542.00H164.00V551.80H165.00V544.80H166.00V544.98H167.00V539.20H168.00V509.20H169.00V533.60H170.00V533.60H171.00V545.00H172.00V555.00H173.00V565.00H174.00V578.00H175.00V580.69H176.00V583.00H177.00V588.00H178.00V599.59H179.00V598.00H180.00V604.30H181.00V615.99H182.00V615.40H183.00V619.62H184.00V622.70H185.00V628.55H186.00V630.10V643.00H187.00V641.95H188.00V640.08H189.00V644.90H190.00V640.63H191.00V637.50H192.00V647.85H193.00V650.40H194.00V655.07H195.00V659.60H196.00V667.89H197.00V667.00H198.00V667.00H199.00V666.16H200.00V674.40H201.00V673.38H202.00V682.79H203.00V681.80H204.00V686.00H205.00V692.80H206.00V692.80H207.00V692.80H208.00V692.80H209.00V692.80H210.00V693.12H211.00V693.33H212.00V693.54H213.00V693.80H214.00V701.50H215.00V701.50" fill="none" stroke="#000" stroke-width="1.8" stroke-dasharray="1 1" shape-rendering="crispEdges"/>
<rect x="296.9" y="503.4" width="212.20" height="199.40" fill="none" stroke="#000" stroke-width="1.6"/>
<line x1="291.10" y1="702.80" x2="296.9" y2="702.80" stroke="#000" stroke-width="1.2"/>
<line x1="293.30" y1="690.41" x2="296.9" y2="690.41" stroke="#000" stroke-width="1.2"/>
<line x1="293.30" y1="678.03" x2="296.9" y2="678.03" stroke="#000" stroke-width="1.2"/>
<line x1="293.30" y1="665.64" x2="296.9" y2="665.64" stroke="#000" stroke-width="1.2"/>
<line x1="293.30" y1="653.26" x2="296.9" y2="653.26" stroke="#000" stroke-width="1.2"/>
<line x1="291.10" y1="640.87" x2="296.9" y2="640.87" stroke="#000" stroke-width="1.2"/>
<line x1="293.30" y1="628.48" x2="296.9" y2="628.48" stroke="#000" stroke-width="1.2"/>
<line x1="293.30" y1="616.10" x2="296.9" y2="616.10" stroke="#000" stroke-width="1.2"/>
<line x1="293.30" y1="603.71" x2="296.9" y2="603.71" stroke="#000" stroke-width="1.2"/>
<line x1="293.30" y1="591.33" x2="296.9" y2="591.33" stroke="#000" stroke-width="1.2"/>
<line x1="291.10" y1="578.94" x2="296.9" y2="578.94" stroke="#000" stroke-width="1.2"/>
<line x1="293.30" y1="566.55" x2="296.9" y2="566.55" stroke="#000" stroke-width="1.2"/>
<line x1="293.30" y1="554.17" x2="296.9" y2="554.17" stroke="#000" stroke-width="1.2"/>
<line x1="293.30" y1="541.78" x2="296.9" y2="541.78" stroke="#000" stroke-width="1.2"/>
<line x1="293.30" y1="529.40" x2="296.9" y2="529.40" stroke="#000" stroke-width="1.2"/>
<line x1="291.10" y1="517.01" x2="296.9" y2="517.01" stroke="#000" stroke-width="1.2"/>
<line x1="293.30" y1="504.62" x2="296.9" y2="504.62" stroke="#000" stroke-width="1.2"/>
<text x="286.70" y="702.80" transform="rotate(-90 286.70 702.80)" text-anchor="middle" font-size="11.6">0</text>
<text x="286.70" y="640.87" transform="rotate(-90 286.70 640.87)" text-anchor="middle" font-size="11.6">10</text>
<text x="286.70" y="578.94" transform="rotate(-90 286.70 578.94)" text-anchor="middle" font-size="11.6">20</text>
<text x="286.70" y="517.01" transform="rotate(-90 286.70 517.01)" text-anchor="middle" font-size="11.6">30</text>
<text x="274.90" y="605.7" transform="rotate(-90 274.90 605.7)" text-anchor="middle" font-size="12.4">Counts</text>
<line x1="296.90" y1="702.8" x2="296.90" y2="708.80" stroke="#000" stroke-width="1.2"/>
<line x1="312.73" y1="702.8" x2="312.73" y2="706.60" stroke="#000" stroke-width="1.2"/>
<line x1="322.00" y1="702.8" x2="322.00" y2="706.60" stroke="#000" stroke-width="1.2"/>
<line x1="328.57" y1="702.8" x2="328.57" y2="706.60" stroke="#000" stroke-width="1.2"/>
<line x1="333.67" y1="702.8" x2="333.67" y2="706.60" stroke="#000" stroke-width="1.2"/>
<line x1="337.83" y1="702.8" x2="337.83" y2="706.60" stroke="#000" stroke-width="1.2"/>
<line x1="341.35" y1="702.8" x2="341.35" y2="706.60" stroke="#000" stroke-width="1.2"/>
<line x1="344.40" y1="702.8" x2="344.40" y2="706.60" stroke="#000" stroke-width="1.2"/>
<line x1="347.09" y1="702.8" x2="347.09" y2="706.60" stroke="#000" stroke-width="1.2"/>
<line x1="349.50" y1="702.8" x2="349.50" y2="708.80" stroke="#000" stroke-width="1.2"/>
<line x1="365.33" y1="702.8" x2="365.33" y2="706.60" stroke="#000" stroke-width="1.2"/>
<line x1="374.60" y1="702.8" x2="374.60" y2="706.60" stroke="#000" stroke-width="1.2"/>
<line x1="381.17" y1="702.8" x2="381.17" y2="706.60" stroke="#000" stroke-width="1.2"/>
<line x1="386.27" y1="702.8" x2="386.27" y2="706.60" stroke="#000" stroke-width="1.2"/>
<line x1="390.43" y1="702.8" x2="390.43" y2="706.60" stroke="#000" stroke-width="1.2"/>
<line x1="393.95" y1="702.8" x2="393.95" y2="706.60" stroke="#000" stroke-width="1.2"/>
<line x1="397.00" y1="702.8" x2="397.00" y2="706.60" stroke="#000" stroke-width="1.2"/>
<line x1="399.69" y1="702.8" x2="399.69" y2="706.60" stroke="#000" stroke-width="1.2"/>
<line x1="402.10" y1="702.8" x2="402.10" y2="708.80" stroke="#000" stroke-width="1.2"/>
<line x1="417.93" y1="702.8" x2="417.93" y2="706.60" stroke="#000" stroke-width="1.2"/>
<line x1="427.20" y1="702.8" x2="427.20" y2="706.60" stroke="#000" stroke-width="1.2"/>
<line x1="433.77" y1="702.8" x2="433.77" y2="706.60" stroke="#000" stroke-width="1.2"/>
<line x1="438.87" y1="702.8" x2="438.87" y2="706.60" stroke="#000" stroke-width="1.2"/>
<line x1="443.03" y1="702.8" x2="443.03" y2="706.60" stroke="#000" stroke-width="1.2"/>
<line x1="446.55" y1="702.8" x2="446.55" y2="706.60" stroke="#000" stroke-width="1.2"/>
<line x1="449.60" y1="702.8" x2="449.60" y2="706.60" stroke="#000" stroke-width="1.2"/>
<line x1="452.29" y1="702.8" x2="452.29" y2="706.60" stroke="#000" stroke-width="1.2"/>
<line x1="454.70" y1="702.8" x2="454.70" y2="708.80" stroke="#000" stroke-width="1.2"/>
<line x1="470.53" y1="702.8" x2="470.53" y2="706.60" stroke="#000" stroke-width="1.2"/>
<line x1="479.80" y1="702.8" x2="479.80" y2="706.60" stroke="#000" stroke-width="1.2"/>
<line x1="486.37" y1="702.8" x2="486.37" y2="706.60" stroke="#000" stroke-width="1.2"/>
<line x1="491.47" y1="702.8" x2="491.47" y2="706.60" stroke="#000" stroke-width="1.2"/>
<line x1="495.63" y1="702.8" x2="495.63" y2="706.60" stroke="#000" stroke-width="1.2"/>
<line x1="499.15" y1="702.8" x2="499.15" y2="706.60" stroke="#000" stroke-width="1.2"/>
<line x1="502.20" y1="702.8" x2="502.20" y2="706.60" stroke="#000" stroke-width="1.2"/>
<line x1="504.89" y1="702.8" x2="504.89" y2="706.60" stroke="#000" stroke-width="1.2"/>
<line x1="507.30" y1="702.8" x2="507.30" y2="708.80" stroke="#000" stroke-width="1.2"/>
<text x="288.40" y="722.90" font-size="11.5">10<tspan dx="0.6" dy="-7.9" font-size="10.6">0</tspan></text>
<text x="341.00" y="722.90" font-size="11.5">10<tspan dx="0.6" dy="-7.9" font-size="10.6">1</tspan></text>
<text x="393.60" y="722.90" font-size="11.5">10<tspan dx="0.6" dy="-7.9" font-size="10.6">2</tspan></text>
<text x="446.20" y="722.90" font-size="11.5">10<tspan dx="0.6" dy="-7.9" font-size="10.6">3</tspan></text>
<text x="498.80" y="722.90" font-size="11.5">10<tspan dx="0.6" dy="-7.9" font-size="10.6">4</tspan></text>
<text x="401.50" y="734.60" text-anchor="middle" font-size="11.6" letter-spacing="0.1" style="stroke-width:0.5px">FL1</text>
<text x="443.20" y="519.6" font-size="14.5" textLength="56.20" lengthAdjust="spacingAndGlyphs">LA18.18</text>
<text x="436.20" y="532.5" font-size="14.5" textLength="70.00" lengthAdjust="spacingAndGlyphs">anti-RhAG</text>
<polyline points="297.6,702.8 297.6,690.0 298.8,689.2 300.4,698.5 301.9,696.3 305.0,696.3 305.5,702.0 307.0,696.3 316.0,696.3 316.5,689.2 318.1,696.3 326.5,696.3 327.3,689.2 329.6,696.3 331.2,690.8 332.7,696.3 335.8,689.2 337.3,696.3 338.8,683.8 341.2,683.1 342.7,683.8 344.2,676.9 345.8,683.1 347.3,680.0 348.8,673.8 350.4,669.2 351.9,664.6 353.5,658.5 355.0,652.3 356.5,664.6 358.1,664.6 359.6,652.3 360.8,640.0 362.7,640.0 364.2,646.2 365.8,630.8 367.3,615.4 368.8,606.2 369.8,591.0 370.6,600.0 371.5,621.0 372.3,600.0 373.3,581.2 374.7,570.0 376.1,565.8 377.5,589.6 378.2,560.2 378.9,540.6 380.3,539.2 381.0,523.8 382.4,522.4 383.1,515.4 384.5,516.8 385.2,530.8 385.6,546.2 386.6,529.4 387.3,512.6 388.0,504.9 388.7,519.6 389.4,526.6 390.8,532.2 391.9,551.8 392.9,533.6 393.6,508.4 394.3,535.0 395.0,564.4 395.7,535.0 397.1,543.4 398.5,546.2 399.9,554.6 400.6,570.0 401.3,586.8 402.7,596.6 404.1,602.2 405.0,612.3 405.8,627.7 407.3,630.8 409.6,640.0 410.4,646.2 411.2,633.8 412.7,644.6 413.5,656.9 414.2,664.6 415.0,652.3 416.5,650.8 418.1,658.5 418.8,670.8 420.4,683.1 421.9,676.9 423.5,683.1 431.9,683.8 434.2,689.2 436.5,695.4 438.8,695.4 441.2,688.5 442.7,693.8 444.2,696.2 450.4,696.2 451.9,701.5 454.2,701.5 455.0,696.0 457.3,696.0 457.5,702.8 459.6,702.8 459.6,696.0 461.2,696.0 461.5,702.8 509.0,702.8" fill="none" stroke="#000" stroke-width="1.6" stroke-linejoin="miter" stroke-miterlimit="2"/>
<path d="M298.30,702.80V680.00H299.30V698.00H300.30V697.00H301.30V698.00H302.30V699.50H303.30V698.10H304.30V696.00H305.30V697.40H306.30V699.50H307.30V698.10H308.30V696.00H309.30V697.40H310.30V699.50H311.30V698.10H312.30V696.00H313.30V697.40H314.30V699.50H315.30V698.10H316.30V696.00H317.30V697.40H318.30V699.50H319.30V698.10H320.30V696.00H321.30V697.40H322.30V699.50H323.30V698.10H324.30V696.00H325.30V697.40H326.30V699.50H327.30V698.10H328.30V696.00H329.30V697.40H330.30V699.50H331.30V698.10H332.30V696.00H333.30V697.40H334.30V699.50H335.30V697.30H336.30V694.00H337.30V690.12H338.30V689.82H339.30V689.20H340.30V692.43H341.30V687.24H342.30V690.03H343.30V690.80H344.30V692.06H345.30V687.99H346.30V691.49H347.30V689.20H348.30V690.51H349.30V688.77H350.30V684.60H351.30V680.40H352.30V683.62H353.30V678.50H354.30V680.92H355.30V686.20H356.30V690.03H357.30V689.20H358.30V686.20H359.30V687.30H360.30V687.27H361.30V682.93H362.30V680.00H363.30V681.06H364.30V680.27H365.30V677.00H366.30V679.42H367.30V675.38H368.30V676.90H369.30V674.33H370.30V666.70H371.30V670.04H372.30V669.06H373.30V671.10H374.30V670.09H375.30V675.50H376.30V675.00H377.30V666.70H378.30V670.30H379.30V668.21H380.30V663.70H381.30V654.90H382.30V655.29H383.30V655.10H384.30V652.00H385.30V649.28H386.30V645.42H387.30V649.00H388.30V646.00H389.30V637.20H390.30V640.57H391.30V632.80H392.30V633.91H393.30V629.22H394.30V626.90H395.30V622.40H396.30V631.73H397.30V632.80H398.30V623.90H399.30V614.22H400.30V612.10H401.30V615.10H402.30V615.80H403.30V625.40H404.30V604.70H405.30V598.77H406.30V595.90H407.30V596.97H408.30V584.28H409.30V579.80H410.30V570.40H411.30V566.99H412.30V567.20H413.30V556.00H414.30V549.80H415.30V553.20H416.30V569.17H417.30V570.00H418.30V560.20H419.30V537.80H420.30V535.00H421.30V557.49H422.30V564.40V525.20H423.30V515.00H424.30V515.40H425.30V523.80H426.30V531.21H427.30V532.20H428.30V533.81H429.30V539.20H430.30V537.84H431.30V530.80H432.30V528.00H433.30V542.00H434.30V558.80H435.30V565.80H436.30V578.40H437.30V575.51H438.30V578.40H439.30V589.19H440.30V596.60V615.40H441.30V611.24H442.30V619.47H443.30V620.00V627.70H444.30V652.30H445.30V653.13H446.30V655.40H447.30V663.10H448.30V660.33H449.30V669.52H450.30V666.20H451.30V672.30H452.30V675.04H453.30V680.00H454.30V682.92H455.30V683.20H456.30V680.99H457.30V681.91H458.30V685.89H459.30V683.20H460.30V688.80H461.30V688.92H462.30V691.59H463.30V688.80H464.30V695.00H465.30V695.00H466.30V695.00H467.30V695.00H468.30V695.00H469.30V695.00H470.30V695.00H471.30V695.00H472.30V695.00H473.30V702.80H474.30V702.80" fill="none" stroke="#000" stroke-width="1.8" stroke-dasharray="1 1" shape-rendering="crispEdges"/>
<line x1="17" y1="760.8" x2="118.8" y2="760.8" stroke="#000" stroke-width="1.9"/>
<line x1="17" y1="778.4" x2="118.8" y2="778.4" stroke="#000" stroke-width="1.5" stroke-dasharray="1.6 1.7"/>
<line x1="277.5" y1="761.5" x2="379.3" y2="761.5" stroke="#000" stroke-width="1.9"/>
<line x1="277.5" y1="778.4" x2="379.3" y2="778.4" stroke="#000" stroke-width="1.5" stroke-dasharray="1.6 1.7"/>
<text x="124.6" y="765.5" font-size="14.6" textLength="99" lengthAdjust="spacingAndGlyphs">= K562/D+pBn</text>
<text x="124.6" y="782" font-size="14.6" textLength="112.2" lengthAdjust="spacingAndGlyphs">= K562/D+B3EQ</text>
<text x="384.6" y="765.5" font-size="14.6" textLength="106" lengthAdjust="spacingAndGlyphs">= K562/cE+pBn</text>
<text x="384.6" y="782.5" font-size="14.6" textLength="119.5" lengthAdjust="spacingAndGlyphs">= K562/cE+B3EQ</text>
</svg>
</body></html>
